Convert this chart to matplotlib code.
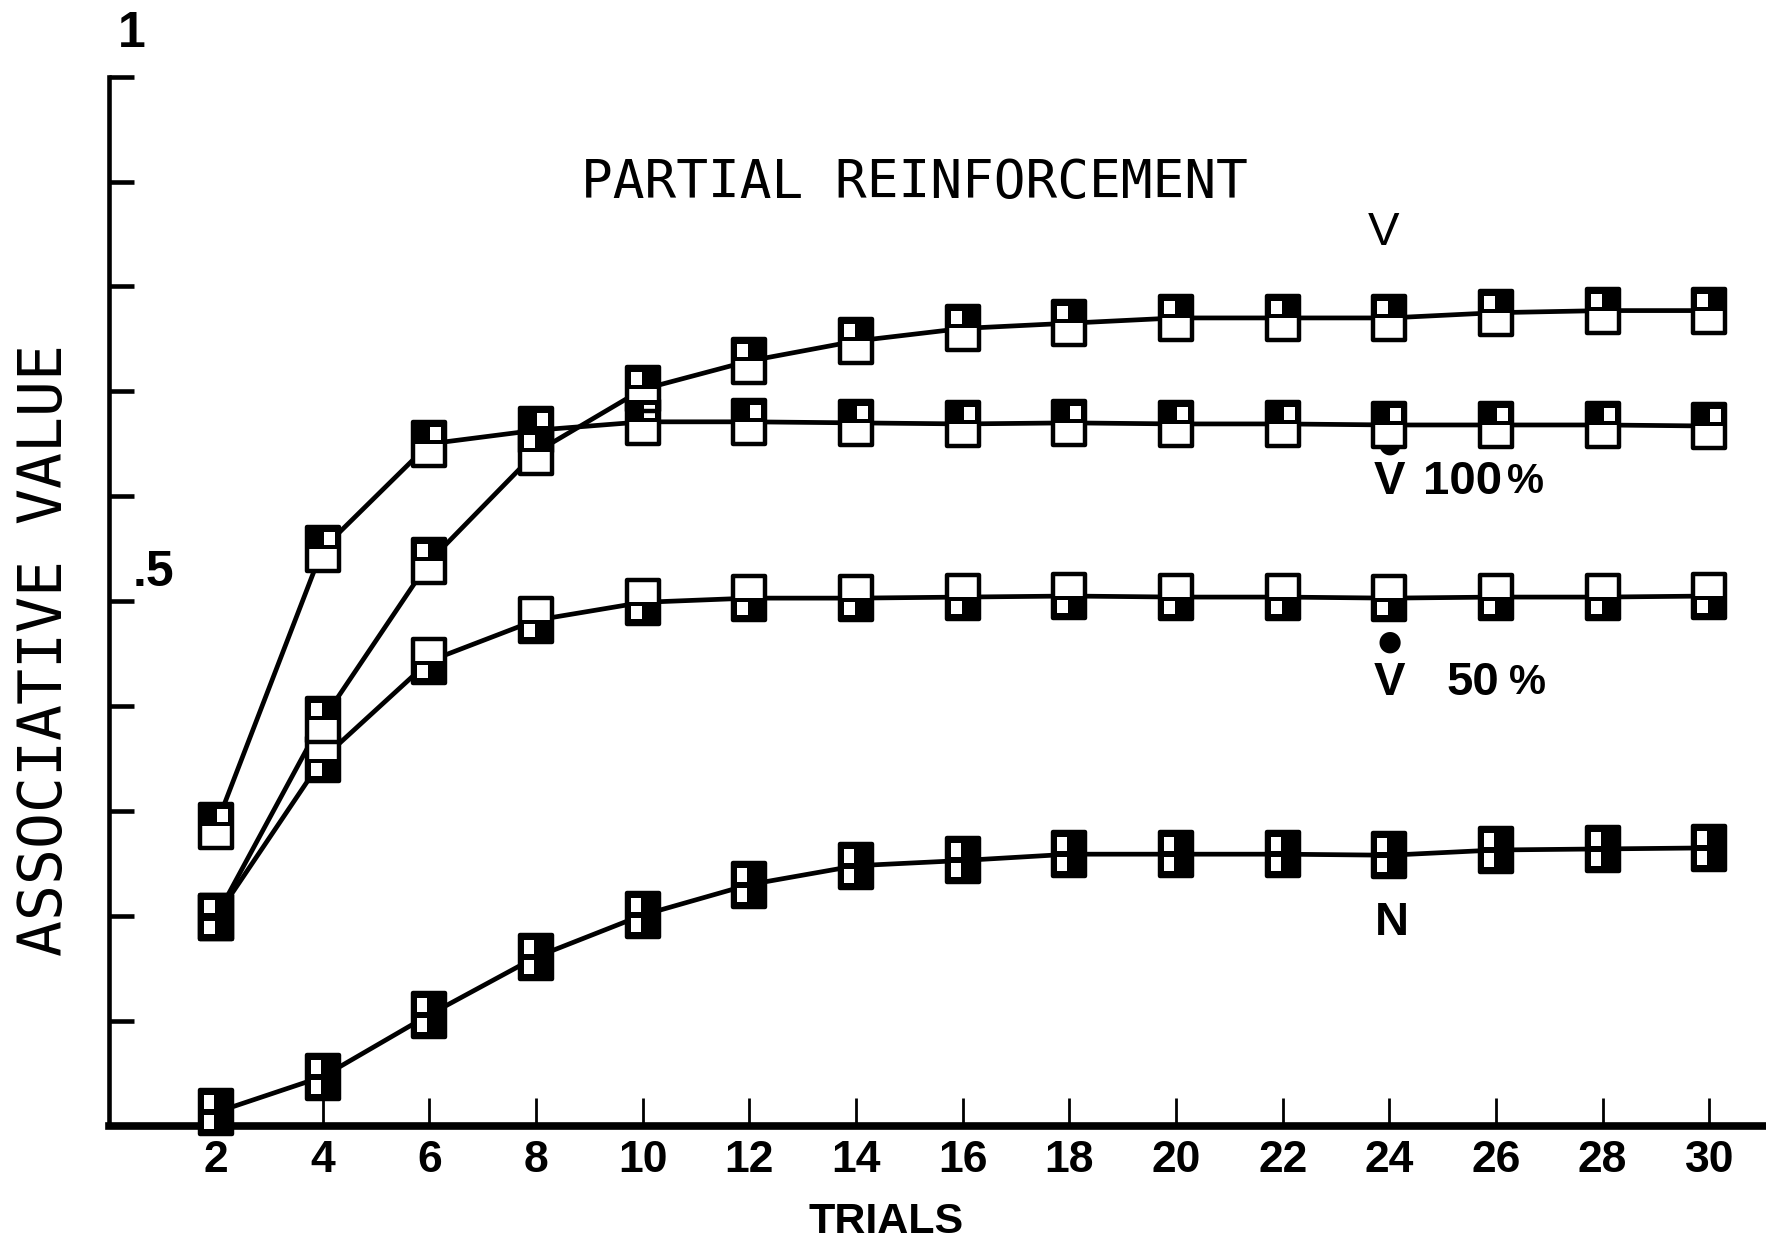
import numpy as np
import matplotlib
matplotlib.use("Agg")
import matplotlib.pyplot as plt
from matplotlib.path import Path
from matplotlib.markers import MarkerStyle

# data (associative value per trial)
trials = [2, 4, 6, 8, 10, 12, 14, 16, 18, 20, 22, 24, 26, 28, 30]
v_total = [0.199, 0.387, 0.538, 0.642, 0.702, 0.729, 0.748, 0.760,
           0.765, 0.770, 0.770, 0.770, 0.775, 0.777, 0.777]
v_100 = [0.286, 0.550, 0.650, 0.663, 0.671, 0.671, 0.670, 0.669,
         0.670, 0.669, 0.669, 0.668, 0.668, 0.668, 0.667]
v_50 = [0.199, 0.350, 0.443, 0.482, 0.499, 0.503, 0.503, 0.504,
        0.505, 0.504, 0.504, 0.503, 0.504, 0.504, 0.505]
n_vals = [0.013, 0.047, 0.106, 0.161, 0.201, 0.230, 0.248, 0.253,
          0.259, 0.259, 0.259, 0.258, 0.263, 0.264, 0.265]

x_ticks = [2, 4, 6, 8, 10, 12, 14, 16, 18, 20, 22, 24, 26, 28, 30]
y_ticks = [0.1, 0.2, 0.3, 0.4, 0.5, 0.6, 0.7, 0.8, 0.9, 1.0]

NARROW = ["Liberation Sans", "DejaVu Sans"]
MONO = ["DejaVu Sans Mono"]


def rect(x0, x1, y0, y1, hole=False):
    pts = [(x0, y0), (x1, y0), (x1, y1), (x0, y1)]
    if hole:
        pts = pts[::-1]
    return pts + [pts[0]], [Path.MOVETO, Path.LINETO, Path.LINETO, Path.LINETO, Path.CLOSEPOLY]


def compound(*parts):
    verts, codes = [], []
    for v, c in parts:
        verts += v
        codes += c
    return MarkerStyle(Path(verts, codes), joinstyle="miter")


W = 0.76
box_marker = compound(rect(-W, W, -1, 1))
# dark part of each plotter symbol (outer area minus the white cells)
dark_v = compound(rect(-W, W, 0, 1), rect(-0.56, -0.06, 0.18, 0.8, True))
dark_100 = compound(rect(-W, W, 0, 1), rect(0.06, 0.56, 0.18, 0.8, True))
dark_50 = compound(rect(-W, W, -1, 0), rect(-0.56, -0.06, -0.8, -0.18, True))
dark_n = compound(rect(-W, W, -1, 1),
                  rect(-0.56, -0.08, 0.15, 0.78, True),
                  rect(-0.56, -0.08, -0.78, -0.15, True))

fig = plt.figure(figsize=(17.66, 12.45), dpi=100)
ax = fig.add_axes([0.0619, 0.0956, 0.9362, 0.8429])

series = [(n_vals, dark_n), (v_50, dark_50), (v_100, dark_100), (v_total, dark_v)]
for vals, dark in series:
    ax.plot(trials, vals, color="black", lw=3.4, zorder=2, clip_on=False)
    ax.plot(trials, vals, ls="none", marker=box_marker, ms=31, mfc="white",
            mec="black", mew=3.2, zorder=4, clip_on=False)
    ax.plot(trials, vals, ls="none", marker=dark, ms=31, mfc="black",
            mew=0, zorder=5, clip_on=False)

ax.set_xlim(0, 31)
ax.set_ylim(0, 1)

# axes look like the old plotter: only left and bottom lines, inward ticks
ax.spines["top"].set_visible(False)
ax.spines["right"].set_visible(False)
ax.spines["left"].set_linewidth(3.3)
ax.spines["bottom"].set_linewidth(5.5)

ax.set_xticks(x_ticks, labels=[str(t) for t in x_ticks], fontsize=32,
              fontweight="bold", family=NARROW)
ax.tick_params(axis="x", direction="in", length=20, width=2, pad=10)
ax.set_yticks(y_ticks)
ax.tick_params(axis="y", direction="in", length=18, width=3.3, labelleft=False)

ax.text(0.42, 1.041, "1", fontsize=36, fontweight="bold", family=NARROW,
        ha="center", va="center", clip_on=False)
ax.text(0.82, 0.527, ".5", fontsize=36, fontweight="bold", family=NARROW,
        ha="center", va="center")

fig.text(0.502, 0.0096, "TRIALS", fontsize=31, fontweight="bold", family=NARROW,
         ha="center", va="baseline")
fig.text(0.026, 0.478, "ASSOCIATIVE VALUE", rotation=90, fontsize=43,
         family=MONO, ha="center", va="center")
fig.text(0.518, 0.8534, "PARTIAL REINFORCEMENT", fontsize=38, family=MONO,
         ha="center", va="center")

# curve labels
ax.text(23.9, 0.851, "V", fontsize=34, family=NARROW, ha="center", va="center")
ax.text(24.0, 0.614, "V", fontsize=34, fontweight="bold", family=NARROW,
        ha="center", va="center")
ax.text(24.0, 0.650, "\u25cf", fontsize=20, family=["DejaVu Sans"],
        ha="center", va="center")
ax.text(24.63, 0.614, "100", fontsize=34, fontweight="bold", family=NARROW,
        ha="left", va="center")
ax.text(26.2, 0.614, "%", fontsize=30, fontweight="bold", family=NARROW,
        ha="left", va="center")
ax.text(24.0, 0.4225, "V", fontsize=34, fontweight="bold", family=NARROW,
        ha="center", va="center")
ax.text(24.0, 0.462, "\u25cf", fontsize=20, family=["DejaVu Sans"],
        ha="center", va="center")
ax.text(25.08, 0.4225, "50", fontsize=34, fontweight="bold", family=NARROW,
        ha="left", va="center")
ax.text(26.24, 0.4225, "%", fontsize=30, fontweight="bold", family=NARROW,
        ha="left", va="center")
ax.text(24.05, 0.193, "N", fontsize=34, fontweight="bold", family=NARROW,
        ha="center", va="center")

fig.savefig("out.png", dpi=100)
